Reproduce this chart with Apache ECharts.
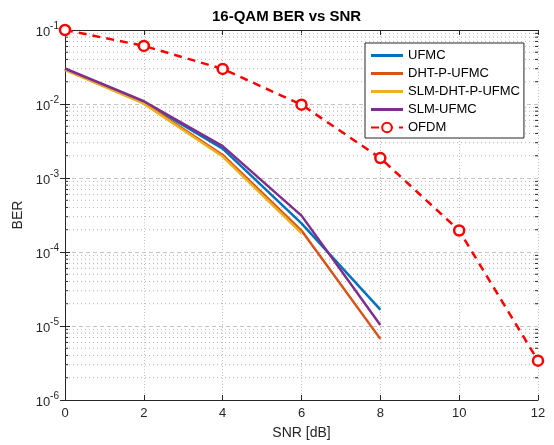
<!DOCTYPE html>
<html><head><meta charset="utf-8">
<script src="https://cdn.jsdelivr.net/npm/echarts@6/dist/echarts.min.js"></script>
<style>html,body{margin:0;padding:0;background:#fff}#c{width:554px;height:445px}</style>
</head><body><div id="c"></div>
<script>
const snr = [0, 2, 4, 6, 8, 10, 12];
const ufmc = [0.0295, 0.0107, 0.0025, 0.000244, 1.66e-5];
const dhtpufmc = [0.0292, 0.0104, 0.00205, 0.000195, 6.7e-6];
const slmdhtpufmc = [0.029, 0.0101, 0.00195, 0.00018];
const slmufmc = [0.0302, 0.0109, 0.0027, 0.00031, 1.03e-5];
const ofdm = [0.1, 0.061, 0.0298, 0.0098, 0.00186, 0.000195, 3.4e-6];
const xTicks = [0, 2, 4, 6, 8, 10, 12];

function pairs(xs, ys){ return ys.map((v,i)=>[xs[i], v]); }
const minorVals = [];
for (let e = -6; e <= -2; e++) for (let k = 2; k <= 9; k++) minorVals.push(k * Math.pow(10, e));

const FONT = 'Liberation Sans';
const chart = echarts.init(document.getElementById('c'));
const lw = 2.5;
function lineS(name, data, color){
  return {name, type:'line', data: pairs(snr, data), showSymbol:false, symbol:'none',
    lineStyle:{color, width:lw}, itemStyle:{color}, animation:false, z:3};
}
const barIcon = 'path://M0,0 L32,0 L32,3 L0,3 Z';
chart.setOption({
  animation:false,
  textStyle:{fontFamily:FONT},
  title:{text:'16-QAM BER vs SNR', left:207, top:4,
    textStyle:{fontFamily:FONT, fontSize:15, fontWeight:'bold', color:'#000'}},
  grid:{left:65, right:16, top:30, bottom:44},
  legend:{orient:'vertical', left:365, top:43, backgroundColor:'#fff', borderColor:'#262626', borderWidth:1,
    padding:[6,4,4,5], itemWidth:32, itemHeight:12, itemGap:5,
    textStyle:{fontFamily:FONT, fontSize:13, color:'#000'},
    data:[{name:'UFMC', icon:barIcon},{name:'DHT-P-UFMC', icon:barIcon},{name:'SLM-DHT-P-UFMC', icon:barIcon},
          {name:'SLM-UFMC', icon:barIcon},'OFDM']},
  xAxis:[{type:'value', min:0, max:12, interval:2, name:'SNR [dB]', nameLocation:'middle', nameGap:26,
    nameTextStyle:{fontFamily:FONT, fontSize:14, color:'#262626'},
    axisLine:{lineStyle:{color:'#262626'}}, axisTick:{inside:true, length:5, lineStyle:{color:'#262626'}},
    axisLabel:{fontFamily:FONT, fontSize:13, color:'#262626', margin:7, formatter:v=>xTicks.includes(v)?String(v):''},
    splitLine:{show:true, lineStyle:{color:'#c4c4c4', type:[1,2], width:1}}},
   {type:'value', position:'top', min:0, max:12, interval:2,
    axisLine:{lineStyle:{color:'#262626'}}, axisTick:{inside:true, length:5, lineStyle:{color:'#262626'}},
    axisLabel:{show:false}, splitLine:{show:false}}],
  yAxis:[{type:'log', logBase:10, min:1e-6, max:1e-1, name:'BER', nameLocation:'middle', nameGap:40,
    nameTextStyle:{fontFamily:FONT, fontSize:14, color:'#262626'},
    axisLine:{show:true, lineStyle:{color:'#262626'}}, axisTick:{inside:true, length:5, lineStyle:{color:'#262626'}},
    axisLabel:{margin:6, formatter:v=>{const e=Math.round(Math.log10(v)); return '{b|10}{s|'+e+'}';},
      rich:{b:{fontFamily:FONT, fontSize:13, color:'#262626', lineHeight:18, verticalAlign:'bottom', padding:[6,0,0,0]},
            s:{fontFamily:FONT, fontSize:10, color:'#262626', lineHeight:18, verticalAlign:'top', padding:[0,0,6,0]}}},
    splitLine:{show:true, lineStyle:{color:'#c4c4c4', type:[4,3], width:1}}},
   {type:'log', logBase:10, min:1e-6, max:1e-1, position:'right',
    axisLine:{show:true, lineStyle:{color:'#262626'}}, axisTick:{inside:true, length:5, lineStyle:{color:'#262626'}},
    axisLabel:{show:false}, splitLine:{show:false}}],
  series:[
    {type:'custom', name:'minorgrid', silent:true, z:1, data: minorVals.map(v=>[v]),
      encode:{y:0},
      renderItem:(params, api)=>{
        const v = api.value(0);
        const a = api.coord([0, v]), b = api.coord([12, v]);
        return {type:'group', children:[
          {type:'line', shape:{x1:a[0], y1:a[1], x2:b[0], y2:b[1]}, style:{stroke:'#b4b4b4', lineWidth:1, lineDash:[1,3]}},
          {type:'line', shape:{x1:a[0], y1:a[1], x2:a[0]+3, y2:a[1]}, style:{stroke:'#262626', lineWidth:1}},
          {type:'line', shape:{x1:b[0]-3, y1:b[1], x2:b[0], y2:b[1]}, style:{stroke:'#262626', lineWidth:1}}
        ]};
      }},
    lineS('UFMC', ufmc, '#0072BD'),
    lineS('DHT-P-UFMC', dhtpufmc, '#D95319'),
    lineS('SLM-DHT-P-UFMC', slmdhtpufmc, '#EDB120'),
    lineS('SLM-UFMC', slmufmc, '#7E2F8E'),
    {name:'OFDM', type:'line', data: pairs(snr, ofdm), symbol:'circle', symbolSize:10, showSymbol:true,
      lineStyle:{color:'#ff0000', width:lw, type:[8,6]},
      itemStyle:{color:'#fff', borderColor:'#ff0000', borderWidth:2.5}, z:4}
  ]
});
</script></body></html>
